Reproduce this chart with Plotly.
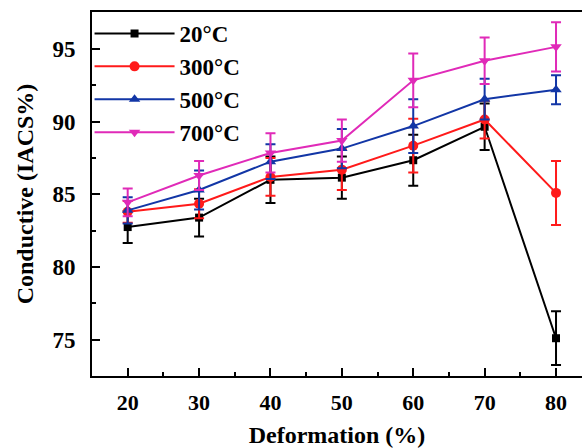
import plotly.graph_objects as go

deformation = [20, 30, 40, 50, 60, 70, 80]

series_names = ["20°C", "300°C", "500°C", "700°C"]
cond_20 = [82.75, 83.4, 86.0, 86.15, 87.35, 89.65, 75.1]
cond_300 = [83.8, 84.35, 86.2, 86.7, 88.35, 90.15, 85.1]
cond_500 = [83.9, 85.3, 87.25, 88.15, 89.7, 91.55, 92.2]
cond_700 = [84.45, 86.3, 87.85, 88.7, 92.85, 94.2, 95.15]

err_20 = [1.1, 1.3, 1.6, 1.45, 1.75, 1.6, 1.85]
err_300 = [0.75, 1.0, 1.3, 1.4, 1.85, 1.3, 2.2]
err_500 = [0.9, 1.35, 1.2, 1.35, 1.85, 1.4, 1.0]
err_700 = [0.95, 1.0, 1.35, 1.45, 1.85, 1.6, 1.7]

y_ticks = [75, 80, 85, 90, 95]
x_ticks = [20, 30, 40, 50, 60, 70, 80]

colors = ["#000000", "#FF1A1A", "#1236A6", "#E02AB8"]
symbols = ["square", "circle", "triangle-up", "triangle-down"]
msizes = [8, 10, 10, 10]

FONT = "Liberation Serif, Times New Roman, serif"

fig = go.Figure()
for name, vals, errs, c, s, ms in zip(
    series_names,
    [cond_20, cond_300, cond_500, cond_700],
    [err_20, err_300, err_500, err_700],
    colors, symbols, msizes,
):
    fig.add_trace(go.Scatter(
        x=deformation, y=vals, name=name, mode="lines+markers",
        line=dict(color=c, width=2),
        marker=dict(symbol=s, size=ms, color=c),
        error_y=dict(type="data", array=errs, visible=True, color=c,
                     thickness=2, width=5),
        legendgroup=name,
    ))

fig.update_layout(
    width=582, height=448,
    margin=dict(l=92, r=0, t=12, b=72),
    paper_bgcolor="white", plot_bgcolor="white",
    font=dict(family=FONT, size=22, color="black", weight="bold"),
    showlegend=True,
    legend=dict(
        x=-0.005, y=1.0, xanchor="left", yanchor="top",
        bgcolor="rgba(0,0,0,0)", borderwidth=0,
        font=dict(family=FONT, size=23, color="black", weight="bold"),
        itemwidth=80, tracegroupgap=0,
    ),
    xaxis=dict(
        range=[15, 83.64], tickvals=x_ticks, ticktext=[str(v) for v in x_ticks],
        ticks="inside", ticklen=8, tickwidth=2, tickcolor="black",
        minor=dict(ticks="inside", ticklen=4, tickwidth=2, dtick=5, tick0=15, tickcolor="black"),
        showline=True, linecolor="black", linewidth=2, mirror=True,
        showgrid=False, zeroline=False,
        tickfont=dict(family=FONT, size=22, weight="bold"),
        ticklabelstandoff=6,
        title=dict(text="Deformation (%)", standoff=14,
                   font=dict(family=FONT, size=24, weight="bold")),
    ),
    yaxis=dict(
        range=[72.5, 97.55], tickvals=y_ticks, ticktext=[str(v) for v in y_ticks],
        ticks="inside", ticklen=8, tickwidth=2, tickcolor="black",
        minor=dict(ticks="inside", ticklen=4, tickwidth=2, dtick=2.5, tick0=72.5, tickcolor="black"),
        showline=True, linecolor="black", linewidth=2, mirror=False,
        showgrid=False, zeroline=False,
        tickfont=dict(family=FONT, size=23, weight="bold"),
        ticklabelstandoff=10,
        title=dict(text="Conductive (IACS%)", standoff=12,
                   font=dict(family=FONT, size=24, weight="bold")),
    ),
)

fig.write_html("out.html")
